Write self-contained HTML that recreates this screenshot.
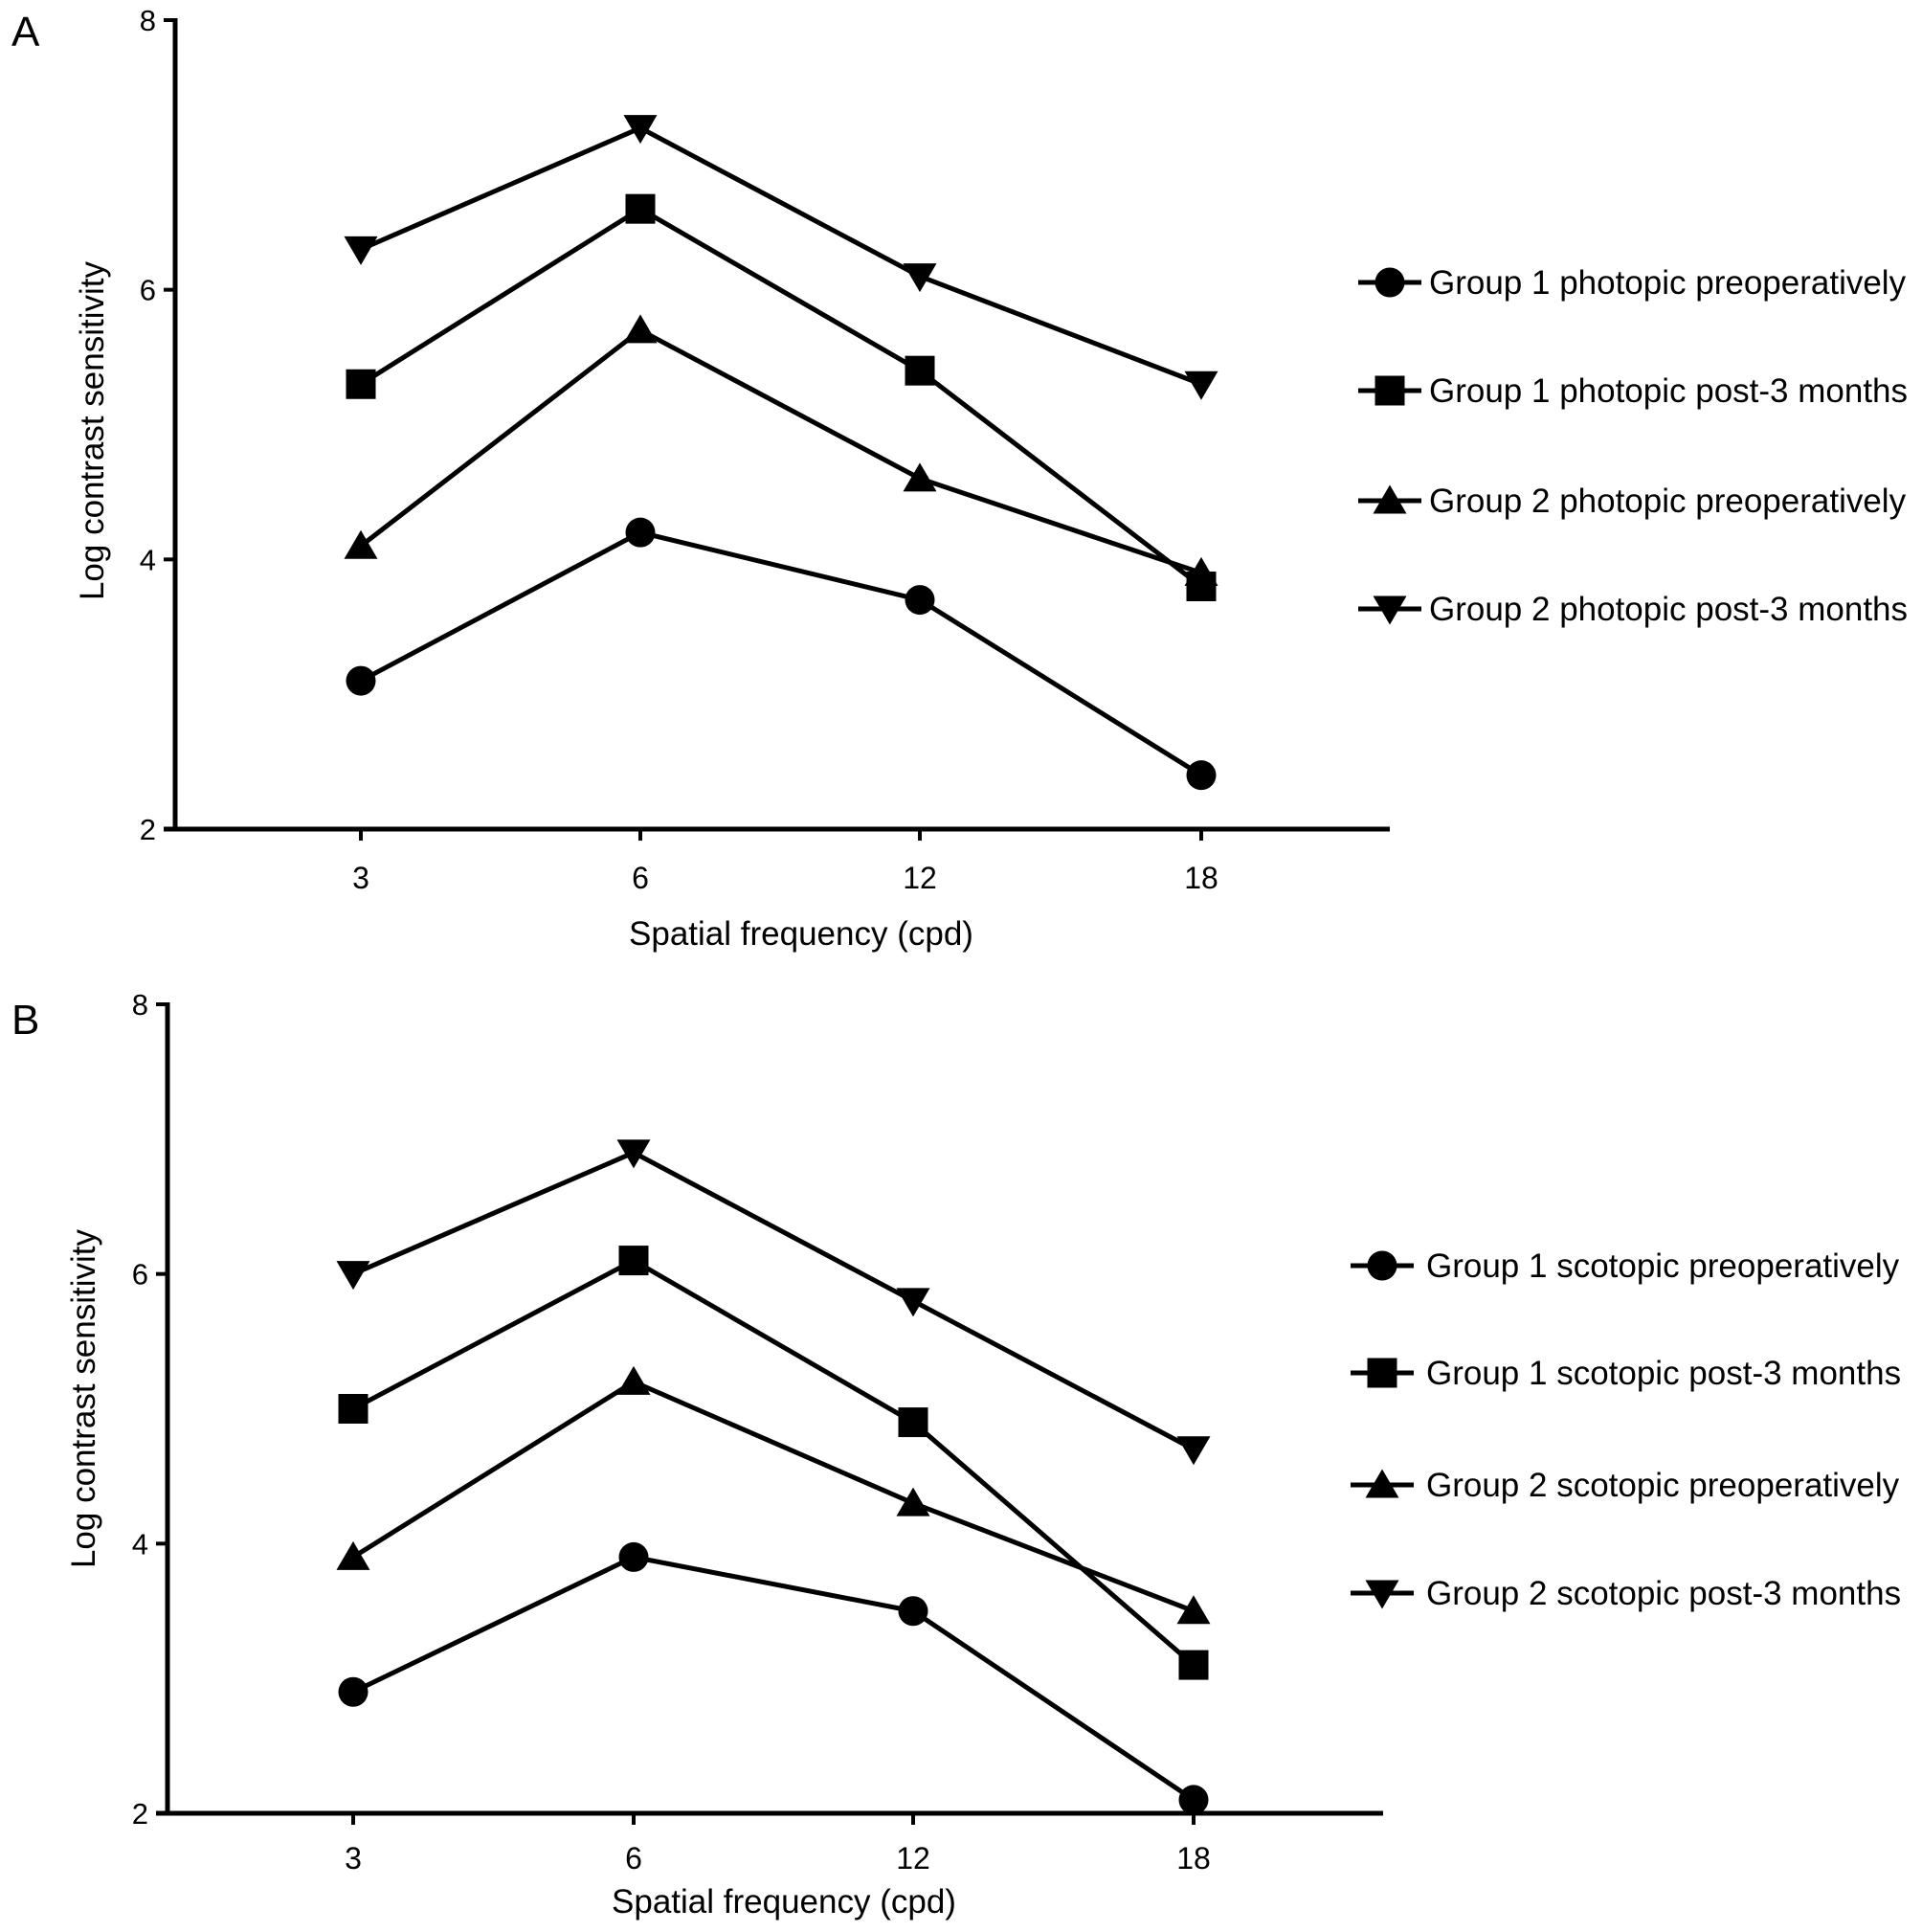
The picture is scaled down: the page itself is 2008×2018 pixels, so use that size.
<!DOCTYPE html>
<html><head><meta charset="utf-8"><style>
html,body{margin:0;padding:0;background:#fff;}
svg{display:block;font-family:"Liberation Sans",Arial,sans-serif;}
</style></head><body>
<svg id="chart" width="2008" height="2018" viewBox="0 0 2008 2018" xmlns="http://www.w3.org/2000/svg"></svg>
<script>
const categories = ["3","6","12","18"];
const yTicks = [2,4,6,8];
const a_g1pre = [3.1,4.2,3.7,2.4];
const a_g1post = [5.3,6.6,5.4,3.8];
const a_g2pre = [4.1,5.7,4.6,3.9];
const a_g2post = [6.3,7.2,6.1,5.3];
const b_g1pre = [2.9,3.9,3.5,2.1];
const b_g1post = [5.0,6.1,4.9,3.1];
const b_g2pre = [3.9,5.2,4.3,3.5];
const b_g2post = [6.0,6.9,5.8,4.7];
const a_labels = ["Group 1 photopic preoperatively","Group 1 photopic post-3 months","Group 2 photopic preoperatively","Group 2 photopic post-3 months"];
const b_labels = ["Group 1 scotopic preoperatively","Group 1 scotopic post-3 months","Group 2 scotopic preoperatively","Group 2 scotopic post-3 months"];

const NS="http://www.w3.org/2000/svg";
const svg=document.getElementById('chart');
function mk(tag,attrs,parent){const e=document.createElementNS(NS,tag);for(const k in attrs)e.setAttribute(k,attrs[k]);(parent||svg).appendChild(e);return e;}
function marker(g,shape,x,y){
  const s=15.5;
  let m;
  if(shape==='circle') m=mk('circle',{cx:x,cy:y,r:s},g);
  else if(shape==='square') m=mk('rect',{x:x-s,y:y-s,width:2*s,height:2*s},g);
  else if(shape==='up') m=mk('polygon',{points:`${x},${y-s-1} ${x+s+2},${y+s-2} ${x-s-2},${y+s-2}`},g);
  else m=mk('polygon',{points:`${x},${y+s+1} ${x+s+2},${y-s+2} ${x-s-2},${y-s+2}`},g);
  m.setAttribute('fill','#000');
  return m;
}
function panel(p){
  const g=mk('g',{});
  
  
  const xs=i=>p.xt[i];
  const ys=v=>p.y2+(v-2)*(p.y8-p.y2)/6;
  const lbl=mk('text',{x:p.lx,y:p.ly,'font-size':44},g);lbl.textContent=p.letter;
  
  
  const ya=mk('line',{x1:p.ax,y1:p.y8-2,x2:p.ax,y2:p.y2,stroke:'#000','stroke-width':5},g);
  
  
  const xa=mk('line',{x1:p.ax-12,y1:p.y2,x2:p.xend,y2:p.y2,stroke:'#000','stroke-width':5},g);
  
  
  yTicks.forEach(v=>{
    mk('line',{x1:p.ax-12,y1:ys(v),x2:p.ax,y2:ys(v),stroke:'#000','stroke-width':4},g);
    const t=mk('text',{x:p.ax-20,y:ys(v)+11,'font-size':31,'text-anchor':'end'},g);t.textContent=v;
    
    
  });
  categories.forEach((c,i)=>{
    mk('line',{x1:xs(i),y1:p.y2,x2:xs(i),y2:p.y2+12,stroke:'#000','stroke-width':4},g);
    const t=mk('text',{x:xs(i),y:p.tly,'font-size':32,'text-anchor':'middle'},g);t.textContent=c;
    
    
  });
  const xt=mk('text',{x:p.xtx,y:p.xty,'font-size':35,'text-anchor':'middle'},g);xt.textContent='Spatial frequency (cpd)';
  
  
  const yt=mk('text',{x:0,y:0,'font-size':35,'text-anchor':'middle',transform:`translate(${p.ytx},${p.yty}) rotate(-90)`},g);yt.textContent='Log contrast sensitivity';
  
  
  p.series.forEach((s,si)=>{
    const sg=mk('g',{},g);
    
    
    const pts=s.data.map((v,i)=>xs(i)+','+ys(v)).join(' ');
    mk('polyline',{points:pts,fill:'none',stroke:'#000','stroke-width':5},sg);
    s.data.forEach((v,i)=>{const m=marker(sg,s.shape,xs(i),ys(v));
      
      });
    const ly=p.legY[si];
    const le=mk('g',{},g);
    
    
    mk('line',{x1:p.legX-33,y1:ly,x2:p.legX+33,y2:ly,stroke:'#000','stroke-width':5},le);
    marker(le,s.shape,p.legX,ly);
    const tt=mk('text',{x:p.legTX,y:ly+12,'font-size':35},le);tt.textContent=p.labels[si];
  });
}
panel({name:'panel-a',letter:'A',lx:12,ly:48,ax:183,y8:21,y2:866,xend:1452,xt:[377,669,961,1255],tly:928,xtx:837,xty:987,ytx:108,yty:450,
  legX:1452,legTX:1493,legY:[295,408,523,636],labels:a_labels,
  series:[{shape:'circle',data:a_g1pre},{shape:'square',data:a_g1post},{shape:'up',data:a_g2pre},{shape:'down',data:a_g2post}]});
panel({name:'panel-b',letter:'B',lx:12,ly:1080,ax:175,y8:1049,y2:1894,xend:1445,xt:[369,662,954,1247],tly:1952,xtx:819,xty:1998,ytx:99,yty:1461,
  legX:1444,legTX:1490,legY:[1322,1434,1551,1664],labels:b_labels,
  series:[{shape:'circle',data:b_g1pre},{shape:'square',data:b_g1post},{shape:'up',data:b_g2pre},{shape:'down',data:b_g2post}]});
</script>
</body></html>
